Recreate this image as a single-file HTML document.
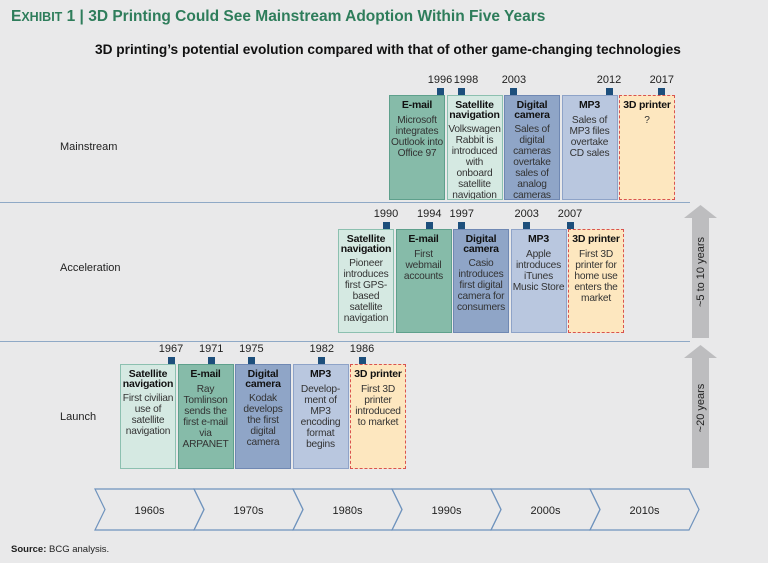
<!DOCTYPE html>
<html><head><meta charset="utf-8"><style>
body{margin:0;width:768px;height:563px;background:#e9e9ea;font-family:"Liberation Sans",sans-serif;position:relative;overflow:hidden;color:#222}
.a{position:absolute}
.box{position:absolute;box-sizing:border-box;text-align:center;font-size:10.2px;line-height:11px;padding:5px 0 0 0;color:#333;overflow:hidden;letter-spacing:-0.2px}
.box b{display:block;color:#111;font-size:10.5px;line-height:9.5px;margin-bottom:4px}
.em{background:#86bba9;border:1.5px solid #5ea08c}
.sat{background:#d5e9e2;border:1.5px solid #8cc0b0}
.dig{background:#8fa5c7;border:1.5px solid #6f88b3}
.mp3{background:#b9c7df;border:1.5px solid #8ea3c8}
.p3{background:#fde7bf;border:1.5px dashed #d9534f}
.mk{position:absolute;width:7px;height:7px;background:#1d4f7c}
.yr{position:absolute;font-size:11px;width:40px;text-align:center}
.rowlbl{position:absolute;font-size:11px;left:60px}
.hl{position:absolute;left:0;width:690px;height:1px;background:#8fa9c6}
</style></head><body>
<div class="a" style="left:11px;top:8px;font-size:15.5px;font-weight:bold;color:#2e7d5b">E<span style="font-size:12.5px">XHIBIT</span> 1 | 3D Printing Could See Mainstream Adoption Within Five Years</div>
<div class="a" style="left:95px;top:42px;font-size:13.7px;font-weight:bold;color:#111">3D printing’s potential evolution compared with that of other game-changing technologies</div>
<div class="rowlbl" style="top:141px">Mainstream</div>
<div class="rowlbl" style="top:262px">Acceleration</div>
<div class="rowlbl" style="top:411px">Launch</div>
<div class="hl" style="top:202px"></div>
<div class="hl" style="top:341px"></div>
<div id="chart"></div>
<svg class="a" style="left:0;top:0" width="768" height="563">
<g fill="#bdbdbf">
<polygon points="692,338 709,338 709,218 717,218 700.5,205 684,218 692,218"/>
<polygon points="692,468 709,468 709,358 717,358 700.5,345 684,358 692,358"/>
</g>
<text transform="translate(704,272) rotate(-90)" text-anchor="middle" font-size="11" fill="#222">~5 to 10 years</text>
<text transform="translate(704,408) rotate(-90)" text-anchor="middle" font-size="11" fill="#222">~20 years</text>
<g id="dec" fill="none" stroke="#6f93bd" stroke-width="1.2"></g>
</svg>
<div class="a" style="left:11px;top:544px;font-size:9.5px"><b>Source:</b> BCG analysis.</div>
<script>
const decades=["1960s","1970s","1980s","1990s","2000s","2010s"];
const rowTitles=["Mainstream","Acceleration","Launch"];
const mainYears=[1996,1998,2003,2012,2017];
const accYears=[1990,1994,1997,2003,2007];
const launchYears=[1967,1971,1975,1982,1986];
const mainItems=[["em","E-mail","Microsoft integrates Outlook into Office 97"],["sat","Satellite navigation","Volkswagen Rabbit is introduced with onboard satellite navigation"],["dig","Digital camera","Sales of digital cameras overtake sales of analog cameras"],["mp3","MP3","Sales of MP3 files overtake CD sales"],["p3","3D printer","?"]];
const accItems=[["sat","Satellite navigation","Pioneer introduces first GPS-based satellite navigation"],["em","E-mail","First webmail accounts"],["dig","Digital camera","Casio introduces first digital camera for consumers"],["mp3","MP3","Apple introduces iTunes Music Store"],["p3","3D printer","First 3D printer for home use enters the market"]];
const launchItems=[["sat","Satellite navigation","First civilian use of satellite navigation"],["em","E-mail","Ray Tomlinson sends the first e-mail via ARPANET"],["dig","Digital camera","Kodak develops the first digital camera"],["mp3","MP3","Develop-ment of MP3 encoding format begins"],["p3","3D printer","First 3D printer introduced to market"]];
const rows=[
 {years:mainYears,items:mainItems,boxX:389,top:95,h:105,x0:1996,px0:440,x1:2012,px1:609},
 {years:accYears,items:accItems,boxX:338,top:229,h:104,x0:1990,px0:386,x1:2007,px1:570},
 {years:launchYears,items:launchItems,boxX:120,top:364,h:105,x0:1967,px0:171,x1:1986,px1:362}];
const chart=document.getElementById('chart');
rows.forEach((r,ri)=>{
 const sx=y=>r.px0+(y-r.x0)*(r.px1-r.px0)/(r.x1-r.x0);
 let prevLbl=-1e9;
 r.items.forEach((it,i)=>{
  const b=document.createElement('div');
  b.className='box '+it[0];
  
  
  b.style.left=(r.boxX+i*57.5)+'px';b.style.top=r.top+'px';b.style.width='56px';b.style.height=r.h+'px';
  b.innerHTML='<b>'+it[1]+'</b>'+it[2];
  chart.appendChild(b);
  const x=sx(r.years[i]);
  const m=document.createElement('div');m.className='mk';
  
  
  m.style.left=(x-3.5)+'px';m.style.top=(r.top-7)+'px';chart.appendChild(m);
  let lx=Math.max(x,prevLbl+26);prevLbl=lx;
  const t=document.createElement('div');t.className='yr';
  
  
  t.textContent=r.years[i];t.style.left=(lx-20)+'px';t.style.top=(r.top-21)+'px';chart.appendChild(t);
 });
});
const dec=document.getElementById('dec');const ns='http://www.w3.org/2000/svg';
decades.forEach((d,i)=>{
 const x=95+i*99,w=99,y0=489,y1=530,ym=509.5,tip=10;
 const p=document.createElementNS(ns,'polygon');
 p.setAttribute('points',`${x},${y0} ${x+w},${y0} ${x+w+tip},${ym} ${x+w},${y1} ${x},${y1} ${x+tip},${ym}`);
 
 
 dec.appendChild(p);
 const t=document.createElementNS(ns,'text');
 t.setAttribute('x',x+w/2+5);t.setAttribute('y',514);t.setAttribute('text-anchor','middle');
 t.setAttribute('font-size','11');t.setAttribute('fill','#222');t.setAttribute('stroke','none');
 
 
 t.textContent=d;dec.appendChild(t);
});
</script>
</body></html>
